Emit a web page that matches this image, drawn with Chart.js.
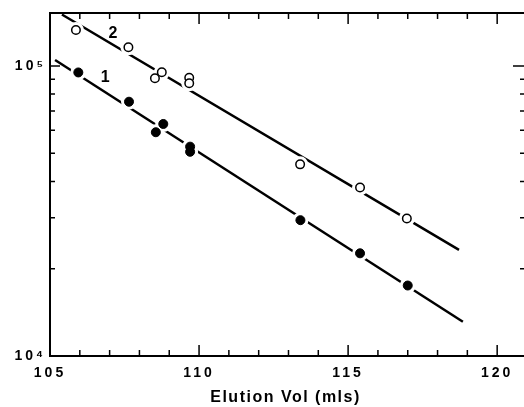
<!DOCTYPE html>
<html lang="en">
  <head>
    <meta charset="utf-8" />
    <title>Elution volume</title>
    <style>
      html, body { margin: 0; padding: 0; background: #fff; overflow: hidden; }
      canvas { display: block; }
    </style>
  </head>
  <body>
    <canvas id="myChart" width="524" height="407"></canvas>
    <script src="https://cdn.jsdelivr.net/npm/chart.js"></script>
    <script>
      // measured points, curve 1 (filled) and curve 2 (open)
      const vol1 = [105.95, 107.65, 108.55, 108.8, 109.7, 109.7, 113.4, 115.4, 117.0];
      const mw1 = [95000, 75300, 59100, 63100, 52700, 50600, 29400, 22600, 17500];
      const vol2 = [105.87, 107.63, 108.52, 108.75, 109.67, 109.67, 113.39, 115.4, 116.97];
      const mw2 = [133000, 116000, 90700, 95100, 91100, 87200, 45800, 38100, 29800];

      // fitted straight lines (end points)
      const fitVol1 = [105.17, 118.85];
      const fitMw1 = [104900, 13130];
      const fitVol2 = [105.4, 118.72];
      const fitMw2 = [150500, 23210];

      const curveNames = ["1", "2"];
      const curveNamePos = [[106.85, 90900], [107.11, 128900]];

      const xLabelValues = [105, 110, 115, 120];
      const xTickValues = [105, 106, 107, 108, 109, 110, 111, 112, 113, 114, 115, 116, 117, 118, 119, 120];
      const yLabelValues = [10000, 100000];
      const yTickLabels = ["10\u2074", "10\u2075"];
      const yTickValues = [10000, 20000, 30000, 40000, 50000, 60000, 70000, 80000, 90000, 100000];
      const xTitle = "Elution Vol (mls)";

      const FONT = "'Liberation Sans', Arial, sans-serif";

      function toPoints(xs, ys) {
        return xs.map((v, i) => ({ x: v, y: ys[i] }));
      }

      // box open on the right (cut off in the original), ticks drawn inside
      const frameTicks = {
        id: "frameTicks",
        beforeDraw(chart) {
          chart.ctx.letterSpacing = "3px";
        },
        beforeDatasetsDraw(chart) {
          const { ctx, chartArea: a, scales } = chart;
          const x = scales.x;
          const y = scales.y;
          ctx.save();
          ctx.strokeStyle = "#000";
          ctx.lineWidth = 2;
          ctx.beginPath();
          ctx.moveTo(a.right, a.top);
          ctx.lineTo(a.left, a.top);
          ctx.lineTo(a.left, a.bottom);
          ctx.lineTo(a.right, a.bottom);
          ctx.stroke();
          ctx.lineWidth = 1.5;
          ctx.beginPath();
          xTickValues.forEach((v) => {
            const px = x.getPixelForValue(v);
            const len = v % 5 === 0 ? 11 : 6;
            ctx.moveTo(px, a.bottom);
            ctx.lineTo(px, a.bottom - len);
            ctx.moveTo(px, a.top);
            ctx.lineTo(px, a.top + len);
          });
          yTickValues.forEach((v) => {
            const py = y.getPixelForValue(v);
            const major = yLabelValues.includes(v);
            ctx.moveTo(a.left, py);
            ctx.lineTo(a.left + (major ? 10 : 5), py);
            ctx.moveTo(a.right, py);
            ctx.lineTo(a.right - (major ? 11 : 4), py);
          });
          ctx.stroke();
          ctx.restore();
        },
        afterDatasetsDraw(chart) {
          const { ctx, scales } = chart;
          ctx.save();
          ctx.fillStyle = "#000";
          ctx.textAlign = "center";
          ctx.textBaseline = "middle";
          ctx.letterSpacing = "0px";
          ctx.font = "bold 16px " + FONT;
          curveNames.forEach((name, i) => {
            const p = curveNamePos[i];
            ctx.fillText(name, scales.x.getPixelForValue(p[0]), scales.y.getPixelForValue(p[1]));
          });
          ctx.letterSpacing = "1.5px";
          ctx.fillText(xTitle, scales.x.getPixelForValue(112.9), 398);
          ctx.restore();
        },
      };

      const ctx = document.getElementById("myChart");

      new Chart(ctx, {
        type: "scatter",
        data: {
          datasets: [
            {
              label: "fit 1",
              data: toPoints(fitVol1, fitMw1),
              showLine: true,
              borderColor: "#000",
              borderWidth: 2.5,
              pointRadius: 0,
              order: 3,
            },
            {
              label: "fit 2",
              data: toPoints(fitVol2, fitMw2),
              showLine: true,
              borderColor: "#000",
              borderWidth: 2.5,
              pointRadius: 0,
              order: 3,
            },
            {
              label: "gap 1",
              data: toPoints(vol1, mw1),
              pointRadius: 8,
              pointBackgroundColor: "#fff",
              pointBorderWidth: 0,
              order: 2,
            },
            {
              label: "gap 2",
              data: toPoints(vol2, mw2),
              pointRadius: 8,
              pointBackgroundColor: "#fff",
              pointBorderWidth: 0,
              order: 2,
            },
            {
              label: "1",
              data: toPoints(vol1, mw1),
              pointRadius: 4.5,
              pointBackgroundColor: "#000",
              pointBorderColor: "#000",
              pointBorderWidth: 1,
              order: 1,
            },
            {
              label: "2",
              data: toPoints(vol2, mw2),
              pointRadius: 4.25,
              pointBackgroundColor: "#fff",
              pointBorderColor: "#000",
              pointBorderWidth: 1.5,
              order: 1,
            },
          ],
        },
        options: {
          responsive: false,
          animation: false,
          events: [],
          layout: { autoPadding: false, padding: { top: 13, right: 0, left: 0, bottom: 0 } },
          plugins: {
            legend: { display: false },
            tooltip: { enabled: false },
          },
          scales: {
            x: {
              type: "linear",
              min: 105,
              max: 120.9,
              grid: { display: false, drawTicks: false },
              border: { display: false },
              afterBuildTicks: (scale) => {
                scale.ticks = xLabelValues.map((v) => ({ value: v }));
              },
              afterFit: (scale) => {
                scale.height = 51;
                scale.paddingLeft = 0;
                scale.paddingRight = 0;
              },
              ticks: {
                color: "#000",
                padding: 9,
                maxRotation: 0,
                autoSkip: false,
                font: { family: FONT, size: 14, weight: "bold" },
              },
            },
            y: {
              type: "logarithmic",
              min: 10000,
              max: 152300,
              grid: { display: false, drawTicks: false },
              border: { display: false },
              afterBuildTicks: (scale) => {
                scale.ticks = yLabelValues.map((v) => ({ value: v }));
              },
              afterFit: (scale) => {
                scale.width = 50;
                scale.paddingTop = 0;
                scale.paddingBottom = 0;
              },
              ticks: {
                color: "#000",
                padding: 4,
                autoSkip: false,
                font: { family: FONT, size: 14, weight: "bold" },
                callback: (value, index) => yTickLabels[index],
              },
            },
          },
        },
        plugins: [frameTicks],
      });
    </script>
  </body>
</html>
